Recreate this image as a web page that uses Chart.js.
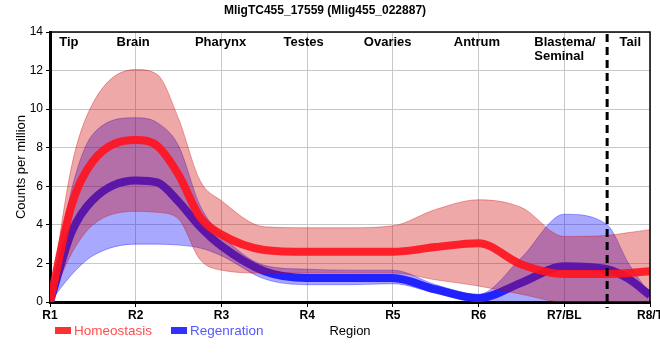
<!DOCTYPE html>
<html>
<head>
<meta charset="utf-8">
<script src="https://cdn.jsdelivr.net/npm/chart.js@4.4.1/dist/chart.umd.min.js"></script>
<style>
  html, body { margin: 0; padding: 0; background: #fff; overflow: hidden; }
  #wrap { width: 680px; height: 360px; }
</style>
</head>
<body>
<div id="wrap"><canvas id="regionChart" width="680" height="360"></canvas></div>
<script>
// Regions along the body axis
const regions = ['R1', 'R2', 'R3', 'R4', 'R5', 'R6', 'R7/BL', 'R8/T'];
const bodyParts = ['Tip', 'Brain', 'Pharynx', 'Testes', 'Ovaries', 'Antrum', 'Blastema/\nSeminal', 'Tail'];

// positions (in region units) where the curves were read
const positions = [1, 1.25, 1.5, 2, 2.25, 2.5, 2.75, 3, 3.5, 4, 4.5, 5, 5.5, 6, 6.5, 7, 7.5, 7.75, 8];

// Homeostasis
const homeoMean  = [0, 5.0, 7.3, 8.4, 8.1, 6.6, 4.4, 3.5, 2.7, 2.6, 2.6, 2.6, 2.85, 3.05, 1.95, 1.45, 1.45, 1.5, 1.6];
const homeoUpper = [0, 7.0, 10.3, 12.05, 11.8, 9.5, 6.3, 5.25, 3.9, 3.85, 3.85, 3.95, 4.8, 5.3, 4.9, 3.4, 3.45, 3.6, 3.75];
const homeoLower = [0, 2.5, 4.0, 4.7, 4.65, 4.3, 2.2, 1.65, 1.5, 1.5, 1.5, 1.5, 1.15, 0.83, 0.4, 0, 0, 0, 0];

// Regeneration
const regenMean  = [0, 3.6, 5.3, 6.3, 6.2, 5.2, 3.9, 2.9, 1.6, 1.25, 1.25, 1.25, 0.65, 0.2, 1.0, 1.85, 1.7, 1.2, 0.35];
const regenUpper = [0, 5.8, 8.7, 9.55, 9.3, 8.1, 5.0, 3.5, 1.9, 1.7, 1.65, 1.65, 0.9, 0.4, 2.3, 4.55, 4.0, 2.0, 0.4];
const regenLower = [0, 1.4, 2.4, 3.0, 3.0, 2.95, 2.8, 2.4, 1.2, 0.9, 0.9, 0.95, 0.45, 0, 0, 0, 0, 0, 0];

const yTicks = [0, 2, 4, 6, 8, 10, 12, 14];

// where the body part names sit (region units) and the tail boundary
const partPos = [1.22, 1.97, 2.99, 3.96, 4.94, 5.98, 6.65, 7.77];
const tailBoundary = 7.5;

const FONT = "'Liberation Sans', Arial, sans-serif";

function pts(vals) {
  return vals.map((v, i) => ({ x: positions[i], y: v }));
}

function band(label, vals, color, fillTo, order) {
  return {
    label: label,
    data: pts(vals),
    borderColor: color,
    borderWidth: 1,
    backgroundColor: color,
    pointRadius: 0,
    cubicInterpolationMode: 'monotone',
    fill: fillTo,
    order: order
  };
}

const redBand = 'rgba(205, 0, 0, 0.34)';
const blueBand = 'rgba(0, 0, 255, 0.34)';

// extra drawing: body part labels, tail boundary, borders, legend
const extras = {
  id: 'extras',
  afterDraw(chart) {
    const ctx = chart.ctx;
    const area = chart.chartArea;
    const x = chart.scales.x;

    // frame top and right
    ctx.save();
    ctx.strokeStyle = '#000';
    ctx.lineWidth = 1.5;
    ctx.beginPath();
    ctx.moveTo(area.left, area.top);
    ctx.lineTo(area.right, area.top);
    ctx.lineTo(area.right, area.bottom);
    ctx.stroke();

    // dashed tail boundary
    const bx = x.getPixelForValue(tailBoundary);
    ctx.lineWidth = 3;
    ctx.setLineDash([8, 5]);
    ctx.beginPath();
    ctx.moveTo(bx, area.top + 2);
    ctx.lineTo(bx, area.bottom + 6);
    ctx.stroke();
    ctx.setLineDash([]);

    // body part names
    ctx.fillStyle = '#000';
    ctx.font = 'bold 13px ' + FONT;
    ctx.textBaseline = 'middle';
    bodyParts.forEach((name, i) => {
      const px = x.getPixelForValue(partPos[i]);
      const lines = name.split('\n');
      ctx.textAlign = lines.length > 1 ? 'left' : 'center';
      lines.forEach((ln, j) => ctx.fillText(ln, px, area.top + 10 + j * 14));
    });

    // legend
    const items = [
      { text: chart.data.datasets[0].label, box: '#ff3030', color: '#ff4d4d', x: 55 },
      { text: chart.data.datasets[3].label, box: '#3030ff', color: '#5656ff', x: 171 }
    ];
    ctx.font = '13.5px ' + FONT;
    ctx.textAlign = 'left';
    items.forEach(it => {
      ctx.fillStyle = it.box;
      ctx.fillRect(it.x, 327, 16, 7);
      ctx.fillStyle = it.color;
      ctx.fillText(it.text, it.x + 19, 331);
    });
    ctx.restore();
  }
};

new Chart(document.getElementById('regionChart'), {
  type: 'line',
  data: {
    datasets: [
      {
        label: 'Homeostasis',
        data: pts(homeoMean),
        borderColor: 'rgba(255, 20, 30, 0.92)',
        borderWidth: 8,
        pointRadius: 0,
        cubicInterpolationMode: 'monotone',
        fill: false,
        order: 0
      },
      band('Homeostasis upper', homeoUpper, redBand, 2, 1),
      band('Homeostasis lower', homeoLower, redBand, false, 1),
      {
        label: 'Regenration',
        data: pts(regenMean),
        borderColor: '#2222ff',
        borderWidth: 8,
        pointRadius: 0,
        cubicInterpolationMode: 'monotone',
        fill: false,
        order: 2
      },
      band('Regenration upper', regenUpper, blueBand, 5, 3),
      band('Regenration lower', regenLower, blueBand, false, 3)
    ]
  },
  options: {
    responsive: false,
    animation: false,
    layout: { padding: { left: 0, right: 30, top: 0, bottom: 0 } },
    plugins: {
      legend: { display: false },
      tooltip: { enabled: false },
      title: {
        display: true,
        text: 'MligTC455_17559 (Mlig455_022887)',
        color: '#000',
        font: { family: FONT, size: 12, weight: 'bold' },
        padding: { top: 3, bottom: 14.6 }
      }
    },
    scales: {
      x: {
        type: 'linear',
        min: 1,
        max: 8,
        afterBuildTicks: (scale) => {
          scale.ticks = regions.map((r, i) => ({ value: i + 1 }));
        },
        afterFit: (scale) => { scale.height = 58; },
        ticks: {
          color: '#000',
          padding: 1,
          maxRotation: 0,
          font: { family: FONT, size: 12, weight: 'bold' },
          callback: (v) => regions[v - 1]
        },
        grid: { color: '#c8c8c8', tickColor: '#000', tickLength: 5 },
        border: { color: '#000', width: 3 },
        title: {
          display: true,
          text: 'Region',
          color: '#000',
          font: { family: FONT, size: 13 },
          padding: { top: 4, bottom: 21 }
        }
      },
      y: {
        min: 0,
        max: 14,
        afterBuildTicks: (scale) => {
          scale.ticks = yTicks.map(v => ({ value: v }));
        },
        afterFit: (scale) => { scale.width = 50; },
        ticks: {
          color: '#000',
          padding: 3,
          font: { family: FONT, size: 12 }
        },
        grid: { color: '#c8c8c8', tickColor: '#000', tickLength: 4 },
        border: { color: '#000', width: 3 },
        title: {
          display: true,
          text: 'Counts per million',
          color: '#000',
          font: { family: FONT, size: 13 },
          padding: { top: 14, bottom: 0 }
        }
      }
    }
  },
  plugins: [extras]
});
</script>
</body>
</html>
